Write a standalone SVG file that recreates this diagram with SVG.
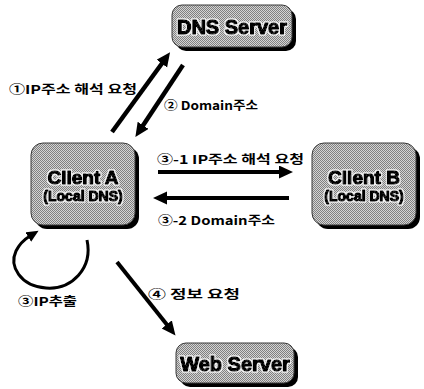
<svg xmlns="http://www.w3.org/2000/svg" width="424" height="389" viewBox="0 0 424 389">
  <defs>
    <!-- dithered grey fill of the boxes -->
    <pattern id="dither" width="2" height="2" patternUnits="userSpaceOnUse">
      <rect width="2" height="2" fill="#d4d4d4"/>
      <rect x="0" y="0" width="1" height="1" fill="#808080"/>
      <rect x="1" y="1" width="1" height="1" fill="#808080"/>
    </pattern>
    <!-- light halo round the box titles -->
    <filter id="halo" x="-10%" y="-30%" width="120%" height="160%">
      <feMorphology in="SourceAlpha" operator="dilate" radius="1.3" result="thick"/>
      <feFlood flood-color="#f4f4f4"/>
      <feComposite in2="thick" operator="in" result="glow"/>
      <feMerge>
        <feMergeNode in="glow"/>
        <feMergeNode in="SourceGraphic"/>
      </feMerge>
    </filter>
    <marker id="head" markerUnits="userSpaceOnUse" markerWidth="16" markerHeight="14" refX="2" refY="6.5" orient="auto">
      <path d="M0,0 L14,6.5 L0,13 z" fill="#000"/>
    </marker>
    <marker id="headSmall" markerUnits="userSpaceOnUse" markerWidth="14" markerHeight="12" refX="2" refY="5.5" orient="auto">
      <path d="M0,0 L12,5.5 L0,11 z" fill="#000"/>
    </marker>
  </defs>
  <style>
    .shadow { fill: #000; }
    .box { fill: url(#dither); stroke: #3a3a3a; stroke-width: 1; }
    .title { font-family: "Liberation Sans", Arial, sans-serif; font-weight: bold; fill: #000; stroke: #000; stroke-width: 1.4; stroke-linejoin: round; text-anchor: middle; filter: url(#halo); }
    .big { font-size: 20px; }
    .mid { font-size: 19px; }
    .sub { font-size: 14px; }
    .lbl { font-family: "Noto Sans CJK KR", "Noto Sans", sans-serif; font-size: 12px; font-weight: bold; fill: #000; }
    .arrow { stroke: #000; fill: none; stroke-linecap: butt; }
  </style>
  <rect width="424" height="389" fill="#fff"/>

  <g id="dns-server">
    <rect class="shadow" x="176" y="9" width="120" height="42" rx="10"/>
    <rect class="box" x="172" y="5" width="120" height="42" rx="10"/>
    <text class="title big" x="232" y="34">DNS Server</text>
  </g>

  <g id="client-a">
    <rect class="shadow" x="35" y="147" width="104" height="82" rx="12"/>
    <rect class="box" x="31" y="143" width="104" height="82" rx="12"/>
    <text class="title mid" x="83" y="184">Client A</text>
    <text class="title sub" x="83" y="201">(Local DNS)</text>
  </g>

  <g id="client-b">
    <rect class="shadow" x="316" y="147" width="104" height="82" rx="12"/>
    <rect class="box" x="312" y="143" width="104" height="82" rx="12"/>
    <text class="title mid" x="364" y="184">Client B</text>
    <text class="title sub" x="364" y="201">(Local DNS)</text>
  </g>

  <g id="web-server">
    <rect class="shadow" x="180" y="347" width="118" height="40" rx="10"/>
    <rect class="box" x="176" y="343" width="118" height="40" rx="10"/>
    <text class="title big" x="235" y="371">Web Server</text>
  </g>

  <g id="connectors">
    <line class="arrow" x1="112" y1="132" x2="163" y2="62" stroke-width="4.5" marker-end="url(#head)"/>
    <line class="arrow" x1="183" y1="65" x2="142" y2="127" stroke-width="4.5" marker-end="url(#head)"/>
    <line class="arrow" x1="158" y1="172" x2="281" y2="172" stroke-width="4" marker-end="url(#head)"/>
    <line class="arrow" x1="289" y1="198" x2="165" y2="198" stroke-width="4" marker-end="url(#head)"/>
    <line class="arrow" x1="117" y1="262" x2="168" y2="326" stroke-width="4" marker-end="url(#head)"/>
    <path class="arrow" d="M87,240 C93,268 72,290 46,288 C20,286 9,266 16,251 C20,243 25,239 30,236" stroke-width="3" marker-end="url(#headSmall)"/>
  </g>

  <g id="labels">
    <text class="lbl" x="9" y="94" textLength="128" lengthAdjust="spacingAndGlyphs">①IP주소 해석 요청</text>
    <text class="lbl" x="164" y="110" textLength="94" lengthAdjust="spacingAndGlyphs">② Domain주소</text>
    <text class="lbl" x="157" y="164" textLength="147" lengthAdjust="spacingAndGlyphs">③-1 IP주소 해석 요청</text>
    <text class="lbl" x="158" y="225" textLength="117" lengthAdjust="spacingAndGlyphs">③-2 Domain주소</text>
    <text class="lbl" x="18" y="306" textLength="59" lengthAdjust="spacingAndGlyphs">③IP추출</text>
    <text class="lbl" x="148" y="299" textLength="92" lengthAdjust="spacingAndGlyphs">④ 정보 요청</text>
  </g>
</svg>
